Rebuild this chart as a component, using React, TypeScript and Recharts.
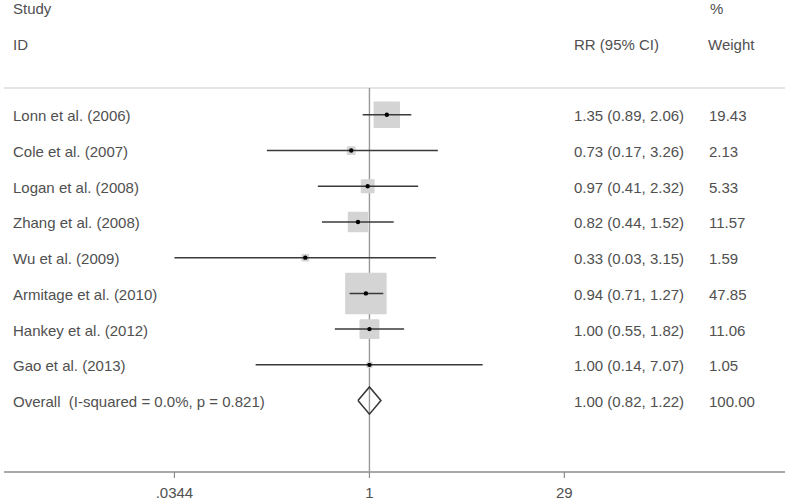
import React from 'react';
import { ScatterChart, Scatter, XAxis, YAxis, Customized } from 'recharts';

// ---- data ----
const studies = [
  'Lonn et al. (2006)',
  'Cole et al. (2007)',
  'Logan et al. (2008)',
  'Zhang et al. (2008)',
  'Wu et al. (2009)',
  'Armitage et al. (2010)',
  'Hankey et al. (2012)',
  'Gao et al. (2013)',
];
const rr = [1.35, 0.73, 0.97, 0.82, 0.33, 0.94, 1.0, 1.0];
const ciLow = [0.89, 0.17, 0.41, 0.44, 0.0344, 0.71, 0.55, 0.14];
const ciHigh = [2.06, 3.26, 2.32, 1.52, 3.15, 1.27, 1.82, 7.07];
const weights = [19.43, 2.13, 5.33, 11.57, 1.59, 47.85, 11.06, 1.05];

const overallLabel = 'Overall\u00a0 (I-squared = 0.0%, p = 0.821)';
const overallRR = 1.0;
const overallLow = 0.82;
const overallHigh = 1.22;
const overallWeight = 100.0;

const tickValues = [0.0344, 1, 29];
const tickLabels = ['.0344', '1', '29'];

// ---- derived tables ----
const rowNames = [...studies, overallLabel];
const rowCI = [
  ...rr.map((v, i) => `${v.toFixed(2)} (${ciLow[i].toFixed(2)}, ${ciHigh[i].toFixed(2)})`),
  `${overallRR.toFixed(2)} (${overallLow.toFixed(2)}, ${overallHigh.toFixed(2)})`,
];
const rowWeights = [...weights.map((w) => w.toFixed(2)), overallWeight.toFixed(2)];

const studyData = rr.map((v, i) => ({ x: v, y: i, w: weights[i] }));
const ciData = rr.map((_, i) => [
  { x: ciLow[i], y: i },
  { x: ciHigh[i], y: i },
]);
const maxW = Math.max(...weights);
const oRow = studies.length;
const DH = 0.38; // diamond half height in row units
const diamondData = [
  { x: overallLow, y: oRow },
  { x: overallRR, y: oRow - DH },
  { x: overallHigh, y: oRow },
  { x: overallRR, y: oRow + DH },
  { x: overallLow, y: oRow },
];
const Y_TOP = -0.75;
const Y_BOTTOM = 10;
const refData = [
  { x: 1, y: Y_TOP },
  { x: 1, y: Y_BOTTOM },
];

const FONT = '"Liberation Sans", Arial, sans-serif';
const TXT = '#505050';

const BoxShape = (props: any) => {
  const { cx, cy, payload } = props;
  const s = 41.5 * Math.sqrt(payload.w / maxW);
  return <rect x={cx - s / 2} y={cy - s / 2} width={s} height={s} rx={1} fill="#d4d4d4" />;
};
const DotShape = (props: any) => <circle cx={props.cx} cy={props.cy} r={2.2} fill="#000" />;
const NoShape = () => <g />;

const RowTick = (props: any) => {
  const { y, payload } = props;
  const i = payload.value;
  return (
    <g fontFamily={FONT} fontSize={15}>
      <text x={13} y={y + 6.5} style={{ whiteSpace: 'pre' }} fill={TXT}>{rowNames[i]}</text>
      <text x={574} y={y + 6.5} fill={TXT}>{rowCI[i]}</text>
      <text x={709} y={y + 6.5} fill={TXT}>{rowWeights[i]}</text>
    </g>
  );
};

const Header = () => (
  <g fontFamily={FONT} fontSize={15}>
    <text x={13} y={14} fill={TXT}>Study</text>
    <text x={13} y={50} fill={TXT}>ID</text>
    <text x={574} y={50} fill={TXT}>RR (95% CI)</text>
    <text x={710} y={14} fill={TXT}>%</text>
    <text x={708} y={50} fill={TXT}>Weight</text>
  </g>
);

export default function App() {
  return (
    <div style={{ position: 'absolute', left: 0, top: 0, background: '#fff' }}>
      <ScatterChart width={787} height={502} margin={{ top: 87, right: 2, bottom: 0, left: 3 }}>
        <XAxis
          type="number"
          dataKey="x"
          scale="log"
          domain={[0.00181, 1313]}
          allowDataOverflow
          ticks={tickValues}
          interval={0}
          tickFormatter={(v: number) => tickLabels[tickValues.indexOf(v)] ?? String(v)}
          height={30}
          axisLine={{ stroke: '#8c8c8c', strokeWidth: 1.5 }}
          tickLine={{ stroke: '#8c8c8c', strokeWidth: 1.2 }}
          tickSize={6}
          tickMargin={9}
          tick={{ fontFamily: FONT, fontSize: 15, fill: TXT }}
        />
        <XAxis
          xAxisId="top"
          orientation="top"
          type="number"
          dataKey="x"
          scale="log"
          domain={[0.00181, 1313]}
          allowDataOverflow
          height={1}
          tick={false}
          tickLine={false}
          axisLine={{ stroke: '#dcdcdc', strokeWidth: 1.5 }}
        />
        <YAxis
          type="number"
          dataKey="y"
          domain={[Y_TOP, Y_BOTTOM]}
          reversed
          allowDataOverflow
          ticks={rowNames.map((_, i) => i)}
          interval={0}
          width={1}
          axisLine={false}
          tickLine={false}
          tick={(p: any) => <RowTick {...p} />}
        />
        <Scatter
          data={refData}
          isAnimationActive={false}
          line={{ stroke: '#999', strokeWidth: 1.4 }}
          lineType="joint"
          shape={<NoShape />}
        />
        <Scatter data={studyData} isAnimationActive={false} shape={<BoxShape />} />
        {ciData.map((d, i) => (
          <Scatter
            key={`ci${i}`}
            data={d}
            isAnimationActive={false}
            line={{ stroke: '#3a3a3a', strokeWidth: 1.5 }}
            lineType="joint"
            shape={<NoShape />}
          />
        ))}
        <Scatter data={studyData} isAnimationActive={false} shape={<DotShape />} />
        <Scatter
          data={diamondData}
          isAnimationActive={false}
          line={{ stroke: '#333', strokeWidth: 1.5 }}
          lineType="joint"
          shape={<NoShape />}
        />
        <Customized component={<Header />} />
      </ScatterChart>
    </div>
  );
}
